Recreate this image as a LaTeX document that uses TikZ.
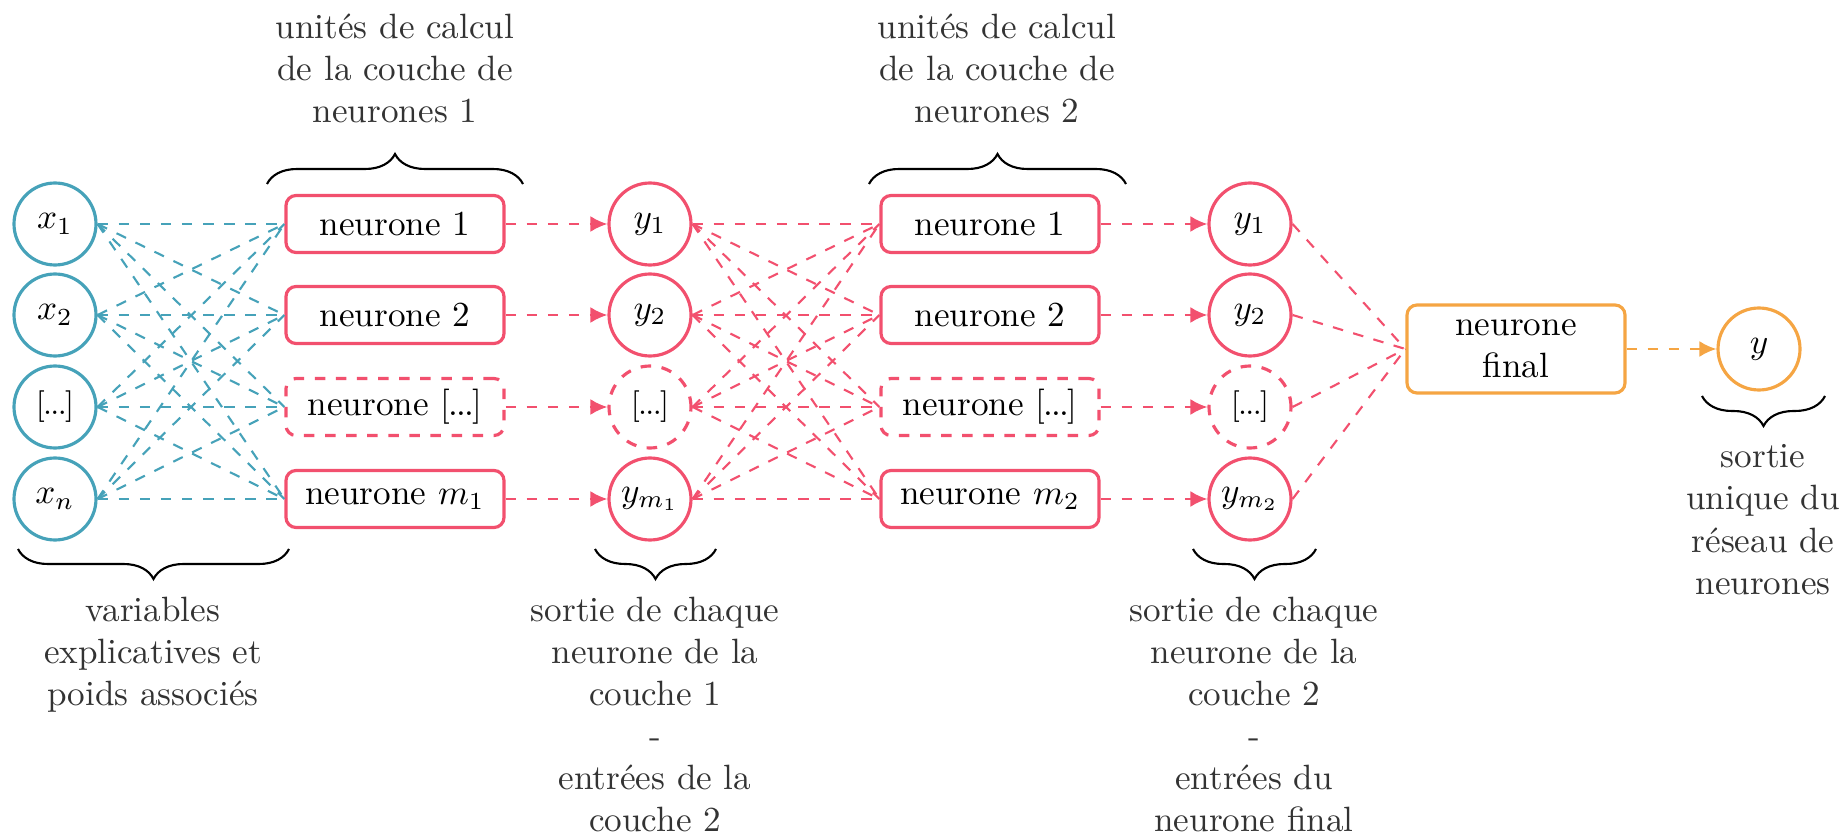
\documentclass[tikz,border=0pt]{standalone}
\usetikzlibrary{arrows.meta,decorations.pathreplacing}
\definecolor{cblue}{HTML}{46A2B9}
\definecolor{cred}{HTML}{F2506E}
\definecolor{corange}{HTML}{F5A543}
\definecolor{ctext}{HTML}{333333}
\newcommand{\tdots}{[\kern-.5pt.\kern-.5pt.\kern-.5pt.\kern-.5pt]}
\begin{document}
\begin{tikzpicture}[x=0.1mm,y=-0.1mm,
  circ/.style={circle, line width=0.9pt, minimum size=8.2mm, inner sep=0pt},
  box/.style={rectangle, rounded corners=1mm, line width=0.9pt, minimum width=21.8mm, minimum height=5.7mm, inner sep=0pt, align=center},
  mesh/.style={dashed, line width=0.6pt},
  link/.style={dashed, line width=0.7pt, -{Latex[length=1.7mm,width=1.6mm]}},
  brc/.style={decorate, decoration={brace, amplitude=3mm}, line width=0.6pt},
  lbl/.style={align=center, text=ctext, inner sep=0pt, anchor=north}]
\useasboundingbox (0,0) rectangle (1846,837);

% inputs
\node[circ, draw=cblue] (x1) at (55,224) {$x_1$};
\node[circ, draw=cblue] (x2) at (55,315) {$x_2$};
\node[circ, draw=cblue] (x3) at (55,407) {\small\tdots};
\node[circ, draw=cblue] (xn) at (55,499) {$x_n$};

% layer 1
\node[box, draw=cred] (a1) at (395,224) {neurone 1};
\node[box, draw=cred] (a2) at (395,315) {neurone 2};
\node[box, draw=cred, dashed] (a3) at (395,407) {neurone \tdots};
\node[box, draw=cred] (a4) at (395,499) {neurone $m_1$};

\node[circ, draw=cred] (h1) at (650,224) {$y_1$};
\node[circ, draw=cred] (h2) at (650,315) {$y_2$};
\node[circ, draw=cred, dashed] (h3) at (650,407) {\small\tdots};
\node[circ, draw=cred] (h4) at (650,499) {$y_{m_1}$};

% layer 2
\node[box, draw=cred] (b1) at (990,224) {neurone 1};
\node[box, draw=cred] (b2) at (990,315) {neurone 2};
\node[box, draw=cred, dashed] (b3) at (990,407) {neurone \tdots};
\node[box, draw=cred] (b4) at (990,499) {neurone $m_2$};

\node[circ, draw=cred] (g1) at (1250,224) {$y_1$};
\node[circ, draw=cred] (g2) at (1250,315) {$y_2$};
\node[circ, draw=cred, dashed] (g3) at (1250,407) {\small\tdots};
\node[circ, draw=cred] (g4) at (1250,499) {$y_{m_2}$};

% final
\node[box, draw=corange, minimum height=8.8mm] (f) at (1516,349) {neurone\\final};
\node[circ, draw=corange] (o) at (1759,349) {$y$};

% mesh connections
\foreach \i in {x1,x2,x3,xn}
  \foreach \j in {a1,a2,a3,a4}
    \draw[mesh, cblue] (\i.east) -- (\j.west);
\foreach \i in {h1,h2,h3,h4}
  \foreach \j in {b1,b2,b3,b4}
    \draw[mesh, cred] (\i.east) -- (\j.west);
\foreach \i in {g1,g2,g3,g4}
  \draw[mesh, cred] (\i.east) -- (f.west);

% outputs of neurons
\foreach \k in {1,2,3,4} {
  \draw[link, cred] (a\k.east) -- (h\k.west);
  \draw[link, cred] (b\k.east) -- (g\k.west);
}
\draw[link, corange] (f.east) -- (o.west);

% braces
\coordinate (t1l) at (267,184); \coordinate (t1r) at (523,184);
\coordinate (t2l) at (869,184); \coordinate (t2r) at (1126,184);
\coordinate (d1l) at (18,549);  \coordinate (d1r) at (289,549);
\coordinate (d2l) at (595,549); \coordinate (d2r) at (716,549);
\coordinate (d3l) at (1193,549); \coordinate (d3r) at (1316,549);
\coordinate (d4l) at (1702,396); \coordinate (d4r) at (1825,396);
\draw[brc] (t1l) -- (t1r);
\draw[brc] (t2l) -- (t2r);
\draw[brc] (d1r) -- (d1l);
\draw[brc] (d2r) -- (d2l);
\draw[brc] (d3r) -- (d3l);
\draw[brc] (d4r) -- (d4l);

% labels
\node[lbl] (lt1) at (395,13) {unités de calcul\\de la couche de\\neurones 1};
\node[lbl] (lt2) at (997,13) {unités de calcul\\de la couche de\\neurones 2};
\node[lbl] (lb1) at (153,596) {variables\\explicatives et\\poids associés};
\node[lbl] (lb2) at (655,596) {sortie de chaque\\neurone de la\\couche 1\\-\\entrées de la\\couche 2};
\node[lbl] (lb3) at (1254,596) {sortie de chaque\\neurone de la\\couche 2\\-\\entrées du\\neurone final};
\node[lbl] (lb4) at (1763,444) {sortie\\unique du\\réseau de\\neurones};
\end{tikzpicture}
\end{document}
